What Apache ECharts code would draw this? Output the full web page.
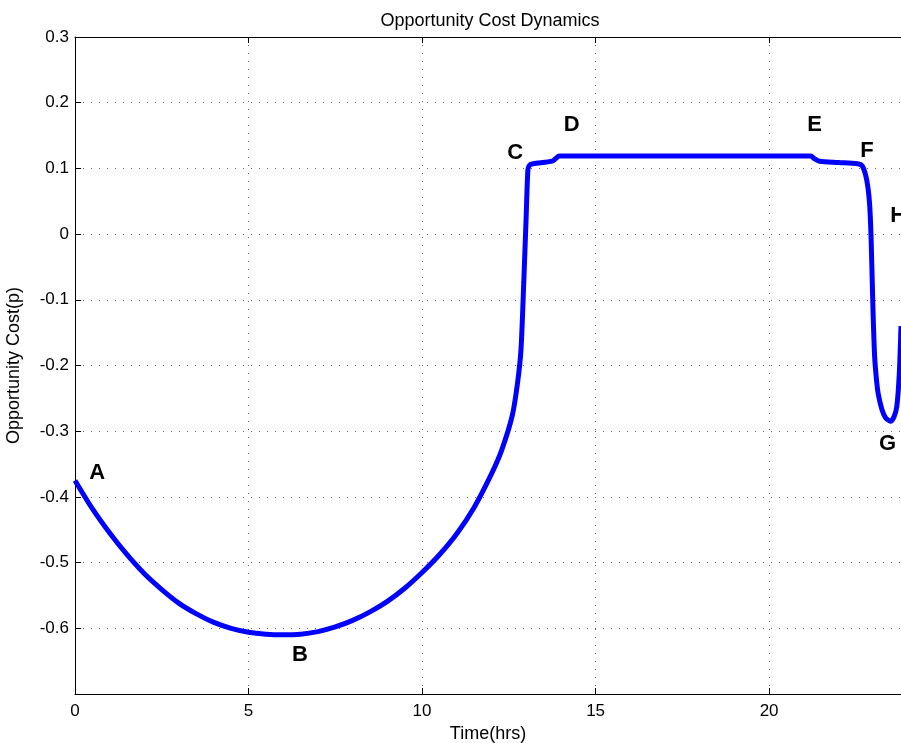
<!DOCTYPE html>
<html>
<head>
<meta charset="utf-8">
<script src="https://cdn.jsdelivr.net/npm/echarts@6/dist/echarts.min.js"></script>
<style>html,body{margin:0;padding:0;background:#fff;}#c{width:901px;height:743px;}</style>
</head>
<body>
<div id="c"></div>
<script>
// ---- data ----
var timeHrs = [0, 0.5, 1, 1.5, 2, 2.5, 3, 3.5, 4, 4.5, 5, 5.5, 6, 6.5, 7, 7.5, 8, 8.5, 9, 9.5, 10, 10.5, 11, 11.5, 12, 12.3, 12.6, 12.75, 12.85, 12.93, 13.0, 13.05, 13.1, 13.2, 13.75, 13.85, 13.95, 14.1, 15, 16, 17, 18, 19, 20, 21, 21.2, 21.3, 21.45, 22, 22.55, 22.68, 22.78, 22.85, 22.9, 22.94, 22.99, 23.04, 23.1, 23.15, 23.25, 23.35, 23.5, 23.6, 23.68, 23.75, 23.8];
var oppCost = [-0.375, -0.418, -0.455, -0.488, -0.517, -0.541, -0.562, -0.578, -0.591, -0.600, -0.606, -0.609, -0.610, -0.609, -0.605, -0.598, -0.588, -0.575, -0.559, -0.539, -0.515, -0.488, -0.456, -0.416, -0.365, -0.328, -0.276, -0.227, -0.176, -0.074, 0.027, 0.098, 0.105, 0.107, 0.111, 0.115, 0.119, 0.119, 0.119, 0.119, 0.119, 0.119, 0.119, 0.119, 0.119, 0.119, 0.115, 0.111, 0.109, 0.107, 0.104, 0.090, 0.070, 0.042, -0.009, -0.110, -0.186, -0.225, -0.245, -0.267, -0.279, -0.285, -0.278, -0.262, -0.213, -0.140];
var pointNames = ['A', 'B', 'C', 'D', 'E', 'F', 'G', 'H'];
var pointTime = [0.64, 6.48, 12.68, 14.31, 21.31, 22.82, 23.41, 23.72];
var pointCost = [-0.363, -0.640, 0.124, 0.166, 0.166, 0.126, -0.320, 0.027];
var xTicks = [0, 5, 10, 15, 20];
var yTicks = [-0.6, -0.5, -0.4, -0.3, -0.2, -0.1, 0, 0.1, 0.2, 0.3];

var lineData = timeHrs.map(function (t, i) { return [t, oppCost[i]]; });
var labelData = pointNames.map(function (n, i) { return { name: n, value: [pointTime[i], pointCost[i]] }; });

var FONT = 'Liberation Sans, Arial, sans-serif';
var gridLine = { show: true, lineStyle: { color: '#000', width: 1, type: [1, 7], opacity: 0.6 } };

var chart = echarts.init(document.getElementById('c'), null, { renderer: 'canvas' });
chart.setOption({
  animation: false,
  backgroundColor: '#fff',
  title: {
    text: 'Opportunity Cost Dynamics',
    left: 485, top: 7, textAlign: 'center',
    textStyle: { fontFamily: FONT, fontSize: 18, fontWeight: 'normal', color: '#000' }
  },
  grid: { left: 75, top: 37, bottom: 49, right: 0, containLabel: false, outerBoundsMode: 'none' },
  xAxis: [{
    type: 'value', min: 0, max: 23.8, interval: 5,
    name: 'Time(hrs)', nameLocation: 'middle', nameGap: 30,
    nameTextStyle: { fontFamily: FONT, fontSize: 18, color: '#000' },
    axisLine: { show: true, onZero: false, lineStyle: { color: '#000', width: 1 } },
    axisTick: { show: true, inside: true, length: 6, lineStyle: { color: '#000' } },
    axisLabel: { fontFamily: FONT, fontSize: 17, color: '#000', margin: 9, showMaxLabel: false,
      formatter: function (v) { return xTicks.indexOf(v) >= 0 ? String(v) : ''; } },
    splitLine: gridLine
  }, {
    type: 'value', min: 0, max: 23.8, interval: 5, position: 'top',
    axisLine: { show: true, onZero: false, lineStyle: { color: '#000', width: 1 } },
    axisTick: { show: true, inside: true, length: 6, lineStyle: { color: '#000' } },
    axisLabel: { show: false },
    splitLine: { show: false }
  }],
  yAxis: [{
    type: 'value', min: -0.7, max: 0.3, interval: 0.1,
    name: 'Opportunity Cost(p)', nameLocation: 'middle', nameGap: 52, nameRotate: 90,
    nameTextStyle: { fontFamily: FONT, fontSize: 18, color: '#000' },
    axisLine: { show: true, onZero: false, lineStyle: { color: '#000', width: 1 } },
    axisTick: { show: true, inside: true, length: 6, lineStyle: { color: '#000' } },
    axisLabel: { fontFamily: FONT, fontSize: 17, color: '#000', margin: 6, showMinLabel: false,
      formatter: function (v) {
        var r = Math.round(v * 10) / 10;
        for (var i = 0; i < yTicks.length; i++) { if (Math.abs(yTicks[i] - r) < 1e-9) return String(yTicks[i]); }
        return '';
      } },
    splitLine: gridLine
  }],
  series: [{
    type: 'line', data: lineData, showSymbol: false, smooth: 0.25,
    lineStyle: { color: '#0000ff', width: 5 }, clip: true, z: 3
  }, {
    type: 'scatter', data: labelData, symbolSize: 0, itemStyle: { color: 'rgba(0,0,0,0)' }, z: 4,
    clip: false, silent: true,
    label: { show: true, position: 'inside', formatter: '{b}', opacity: 1,
      fontFamily: FONT, fontSize: 22, fontWeight: 'bold', color: '#000' }
  }]
});
</script>
</body>
</html>
